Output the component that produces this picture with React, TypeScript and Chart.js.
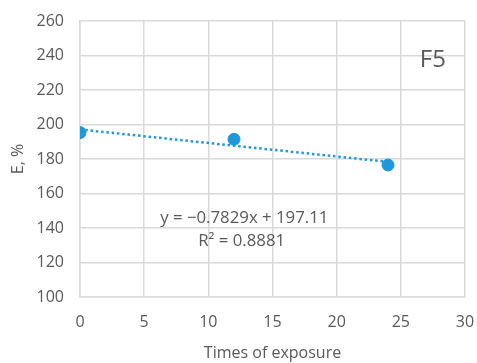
import React, { useEffect, useRef } from "react";
import { Chart, registerables } from "chart.js";

Chart.register(...registerables);

const exposureTimes = [0, 12, 24];
const eValues = [195.3, 191.4, 176.5];
const trendX = [0, 24];
const trendY = [197.11, 178.32];
const xTicks = [0, 5, 10, 15, 20, 25, 30];
const yTicks = [100, 120, 140, 160, 180, 200, 220, 240, 260];
const equationText = "y = −0.7829x + 197.11";
const r2Text = "R² = 0.8881";
const panelLabel = "F5";

const FONT = "'Open Sans', 'Noto Sans', sans-serif";
const TEXT = "#595959";
const GRID = "#d9d9d9";
const BLUE = "#1f97d8";

const annotationPlugin = {
  id: "annots",
  afterDatasetsDraw(chart: any) {
    const { ctx, scales } = chart;
    const xs = scales.x;
    const ys = scales.y;
    ctx.save();
    ctx.fillStyle = TEXT;
    ctx.textAlign = "center";
    ctx.textBaseline = "middle";
    ctx.font = `24px ${FONT}`;
    ctx.fillText(panelLabel, xs.getPixelForValue(27.5), ys.getPixelForValue(237.4));
    ctx.font = `16.8px ${FONT}`;
    ctx.fillText(equationText, xs.getPixelForValue(12.8), ys.getPixelForValue(145.8));
    ctx.fillText(r2Text, xs.getPixelForValue(12.6), ys.getPixelForValue(132.5));
    ctx.restore();
  },
};

export default function App() {
  const ref = useRef<HTMLCanvasElement>(null);
  useEffect(() => {
    document.body.style.margin = "0";
    const chart = new Chart(ref.current!, {
      type: "scatter",
      data: {
        datasets: [
          {
            label: "Trend",
            data: trendX.map((x, i) => ({ x, y: trendY[i] })),
            showLine: true,
            borderColor: BLUE,
            borderWidth: 2.5,
            borderDash: [2.5, 2.8],
            pointRadius: 0,
            fill: false,
          },
          {
            label: "E",
            data: exposureTimes.map((x, i) => ({ x, y: eValues[i] })),
            backgroundColor: BLUE,
            borderColor: BLUE,
            pointRadius: 6,
            showLine: false,
          },
        ],
      },
      options: {
        animation: false,
        responsive: false,
        maintainAspectRatio: false,
        layout: { padding: { top: 21, right: 12, left: 0, bottom: 0 } },
        plugins: { legend: { display: false }, tooltip: { enabled: false } },
        scales: {
          x: {
            type: "linear",
            min: 0,
            max: 30,
            afterBuildTicks: (s: any) => {
              s.ticks = xTicks.map((v) => ({ value: v }));
            },
            afterFit: (s: any) => {
              s.height = 66;
              s.paddingLeft = 0;
              s.paddingRight = 0;
            },
            grid: { color: GRID, lineWidth: 1.5, drawTicks: false },
            border: { color: GRID, width: 1.5 },
            ticks: { color: TEXT, font: { family: FONT, size: 16 }, padding: 16 },
            title: {
              display: true,
              text: "Times of exposure",
              color: TEXT,
              font: { family: FONT, size: 16 },
              padding: { top: 4, bottom: 0 },
            },
          },
          y: {
            type: "linear",
            min: 100,
            max: 260,
            afterBuildTicks: (s: any) => {
              s.ticks = yTicks.map((v) => ({ value: v }));
            },
            afterFit: (s: any) => {
              s.width = 80;
              s.paddingTop = 0;
              s.paddingBottom = 0;
            },
            grid: { color: GRID, lineWidth: 1.5, drawTicks: false },
            border: { color: GRID, width: 1.5 },
            ticks: { color: TEXT, font: { family: FONT, size: 16 }, padding: 16 },
            title: {
              display: true,
              text: "E, %",
              color: TEXT,
              font: { family: FONT, size: 16 },
              padding: { top: 9, bottom: 0 },
            },
          },
        },
      },
      plugins: [annotationPlugin],
    } as any);
    return () => chart.destroy();
  }, []);
  return (
    <div style={{ position: "fixed", left: 0, top: 0, width: 477, height: 363, background: "#fff" }}>
      <canvas ref={ref} width={477} height={363} />
    </div>
  );
}
